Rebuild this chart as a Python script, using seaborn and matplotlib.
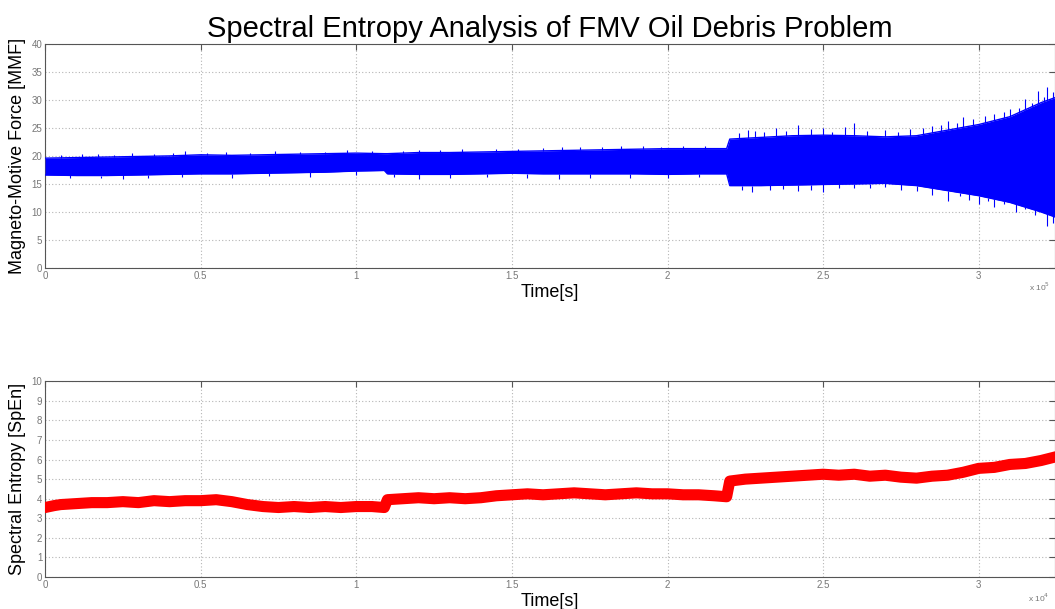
import numpy as np
import pandas as pd
import matplotlib
matplotlib.use("Agg")
import matplotlib.pyplot as plt
import seaborn as sns

# Time axis is in units of 1e5 s (top) as in the reference offset label
band_time = [0.0, 0.1, 0.2, 0.3, 0.4, 0.5, 0.6, 0.7, 0.8, 0.9, 1.0, 1.09, 1.1,
             1.2, 1.3, 1.4, 1.5, 1.6, 1.7, 1.8, 1.9, 2.0, 2.1, 2.19, 2.2,
             2.3, 2.4, 2.5, 2.6, 2.7, 2.8, 2.9, 3.0, 3.1, 3.2, 3.25]
band_upper = [19.6, 19.7, 19.8, 19.9, 20.0, 20.2, 20.1, 20.2, 20.3, 20.4, 20.5, 20.4, 20.4,
              20.6, 20.6, 20.7, 20.8, 20.9, 21.0, 21.1, 21.2, 21.3, 21.3, 21.3, 23.0,
              23.3, 23.6, 23.7, 23.6, 23.4, 23.6, 24.6, 25.6, 27.0, 29.5, 30.5]
band_lower = [16.6, 16.5, 16.5, 16.6, 16.7, 16.8, 16.8, 16.9, 17.0, 17.1, 17.3, 17.4, 16.8,
              16.7, 16.7, 16.8, 16.9, 16.8, 16.8, 16.8, 16.8, 16.7, 16.8, 16.8, 14.7,
              14.7, 14.8, 14.9, 15.0, 15.1, 14.7, 13.8, 12.9, 11.7, 10.0, 9.0]

# isolated spikes poking out of the band
spike_up_time = [0.05, 0.12, 0.17, 0.22, 0.28, 0.35, 0.41, 0.45, 0.52, 0.58, 0.66,
                 0.74, 0.82, 0.9, 0.97, 1.05, 1.15, 1.2, 1.27, 1.34, 1.45, 1.52,
                 1.6, 1.66, 1.72, 1.79, 1.85, 1.92, 1.98, 2.05, 2.12,
                 2.23, 2.26, 2.28, 2.31, 2.35, 2.38, 2.42, 2.46, 2.5, 2.53, 2.57,
                 2.6, 2.64, 2.7, 2.74, 2.78, 2.82, 2.85, 2.88, 2.9, 2.93, 2.95,
                 2.98, 3.02, 3.05, 3.08, 3.1, 3.13, 3.15, 3.17, 3.19, 3.21, 3.22, 3.24]
spike_up_val = [20.2, 20.3, 20.4, 20.2, 20.6, 20.4, 20.6, 20.8, 20.6, 20.7, 20.6,
                20.8, 20.7, 20.7, 21.0, 20.9, 20.9, 21.1, 21.0, 21.2, 21.2, 21.3,
                21.4, 21.5, 21.5, 21.6, 21.8, 21.7, 21.6, 21.8, 21.7,
                24.0, 24.6, 24.5, 24.2, 25.0, 24.4, 25.5, 24.8, 24.9, 24.3, 25.2,
                25.8, 24.5, 24.6, 24.2, 24.8, 25.0, 25.4, 25.6, 26.2, 25.9, 27.0,
                26.5, 27.2, 27.5, 27.8, 28.3, 28.6, 30.2, 29.4, 31.5, 30.6, 32.3, 31.4]
spike_dn_time = [0.08, 0.18, 0.25, 0.33, 0.44, 0.6, 0.72, 0.85, 1.0, 1.12, 1.2,
                 1.3, 1.42, 1.55, 1.65, 1.75, 1.88, 2.0, 2.1,
                 2.24, 2.27, 2.33, 2.37, 2.42, 2.46, 2.5, 2.55, 2.6, 2.65, 2.7,
                 2.75, 2.8, 2.85, 2.9, 2.94, 2.97, 3.0, 3.03, 3.05, 3.08, 3.12,
                 3.15, 3.18, 3.2, 3.22, 3.24]
spike_dn_val = [16.1, 16.0, 15.8, 16.1, 16.2, 16.0, 16.4, 16.3, 16.6, 16.2, 15.9,
                16.1, 16.2, 16.0, 15.8, 16.1, 16.0, 16.0, 16.2,
                13.9, 13.6, 14.0, 14.1, 13.8, 14.0, 13.5, 14.2, 14.3, 14.2, 14.5,
                14.0, 13.8, 13.0, 12.0, 12.8, 12.2, 11.5, 11.9, 10.9, 11.4, 10.0,
                10.6, 9.5, 9.9, 7.5, 8.0]

# Spectral entropy (bottom)
spen_time = [0.0, 0.03, 0.05, 0.1, 0.15, 0.2, 0.25, 0.3, 0.35, 0.4, 0.45, 0.5, 0.55,
             0.6, 0.65, 0.7, 0.75, 0.8, 0.85, 0.9, 0.95, 1.0, 1.05, 1.09, 1.1,
             1.15, 1.2, 1.25, 1.3, 1.35, 1.4, 1.45, 1.5, 1.55, 1.6, 1.65, 1.7,
             1.75, 1.8, 1.85, 1.9, 1.95, 2.0, 2.05, 2.1, 2.15, 2.19, 2.2, 2.25,
             2.3, 2.35, 2.4, 2.45, 2.5, 2.55, 2.6, 2.65, 2.7, 2.75, 2.8, 2.85,
             2.9, 2.95, 3.0, 3.05, 3.1, 3.15, 3.2, 3.25]
spen_val = [3.55, 3.65, 3.7, 3.75, 3.8, 3.8, 3.85, 3.8, 3.9, 3.85, 3.9, 3.9, 3.95,
            3.85, 3.7, 3.6, 3.55, 3.6, 3.55, 3.6, 3.55, 3.6, 3.6, 3.55, 3.95,
            4.0, 4.05, 4.0, 4.05, 4.0, 4.05, 4.15, 4.2, 4.25, 4.2, 4.25, 4.3,
            4.25, 4.2, 4.25, 4.3, 4.25, 4.25, 4.2, 4.2, 4.15, 4.1, 4.9, 5.0,
            5.05, 5.1, 5.15, 5.2, 5.25, 5.2, 5.25, 5.15, 5.2, 5.1, 5.05, 5.15,
            5.2, 5.35, 5.55, 5.6, 5.75, 5.8, 5.95, 6.15]

x_ticks = [0, 0.5, 1, 1.5, 2, 2.5, 3]
x_tick_labels = ["0", "0.5", "1", "1.5", "2", "2.5", "3"]

sns.set_style("white")
plt.rcParams['font.family'] = ['Liberation Sans', 'DejaVu Sans']
plt.rcParams['text.color'] = 'black'
plt.rcParams['axes.labelcolor'] = 'black'

fig = plt.figure(figsize=(10.55, 6.09), dpi=100)
ax1 = fig.add_axes([0.0427, 0.56, 0.9573, 0.368])
ax2 = fig.add_axes([0.0427, 0.0525, 0.9573, 0.3215])

blue = "#0000ff"
red = "#ff0000"

band = pd.DataFrame({"t": band_time, "hi": band_upper, "lo": band_lower})
ax1.fill_between(band["t"], band["lo"], band["hi"], color=blue, lw=0, zorder=3)
sns.lineplot(data=band, x="t", y="hi", ax=ax1, color=blue, lw=1.0, zorder=3)
sns.lineplot(data=band, x="t", y="lo", ax=ax1, color=blue, lw=1.0, zorder=3)
# spikes start from the band edge
up_base = np.interp(spike_up_time, band_time, band_upper)
dn_base = np.interp(spike_dn_time, band_time, band_lower)
ax1.vlines(spike_up_time, up_base, spike_up_val, color=blue, lw=0.8, zorder=3)
ax1.vlines(spike_dn_time, spike_dn_val, dn_base, color=blue, lw=0.8, zorder=3)

spen = pd.DataFrame({"t": spen_time, "v": spen_val})
sns.lineplot(data=spen, x="t", y="v", ax=ax2, color=red, lw=8, zorder=3)

for ax, ymax, ystep in [(ax1, 40, 5), (ax2, 10, 1)]:
    ax.set_xlim(0, 3.245)
    ax.set_ylim(0, ymax)
    ax.set_yticks(np.arange(0, ymax + 1, ystep))
    ax.set_xticks(x_ticks)
    ax.set_xticklabels(x_tick_labels)
    ax.grid(True, linestyle=(0, (1, 2)), color="#b5b5b5", lw=0.8)
    ax.tick_params(direction="in", length=4, width=0.8, top=True, right=True,
                   labelsize=7, labelcolor="#777777", color="#555555", pad=2)
    for s in ax.spines.values():
        s.set_color("#555555")
        s.set_linewidth(0.8)
    ax.set_xlabel("Time[s]", fontsize=13, labelpad=2)

ax1.set_ylabel("Magneto-Motive Force [MMF]", fontsize=13, labelpad=4)
ax2.set_ylabel("Spectral Entropy [SpEn]", fontsize=13, labelpad=4)
ax1.set_title("Spectral Entropy Analysis of FMV Oil Debris Problem", fontsize=21, pad=5)

fig.text(0.995, 0.522, r"x 10$^5$", fontsize=6, color="#777777", ha="right")
fig.text(0.995, 0.012, r"x 10$^4$", fontsize=6, color="#777777", ha="right")

fig.savefig("out.png", dpi=100)
